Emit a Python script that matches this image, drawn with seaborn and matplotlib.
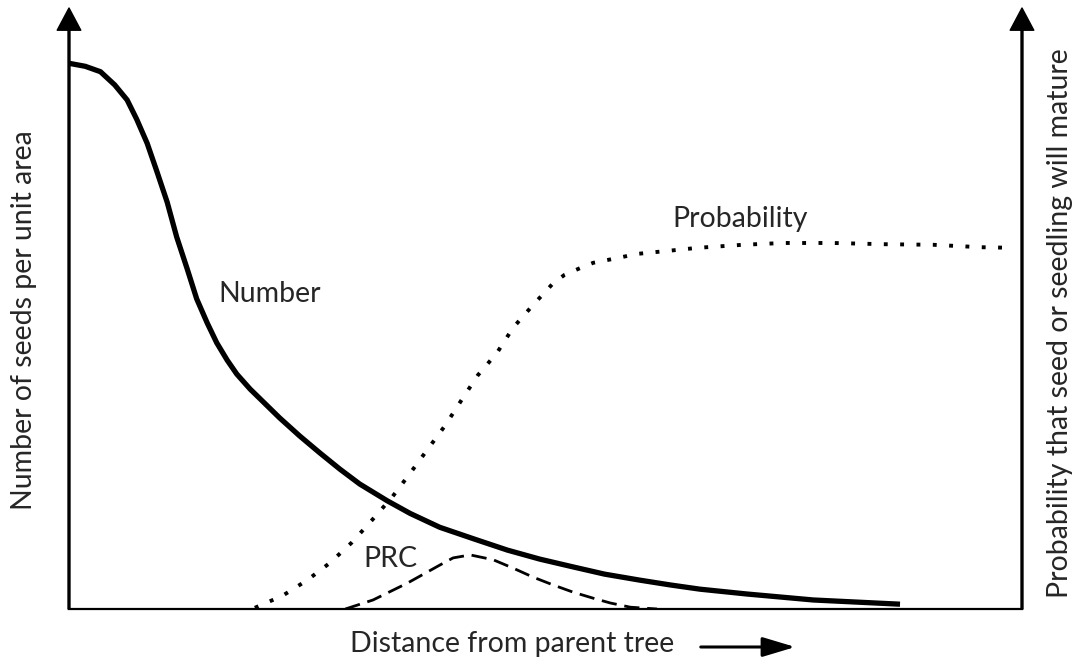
import matplotlib
matplotlib.use("Agg")
import matplotlib.pyplot as plt
import seaborn as sns
import pandas as pd

# values (x = distance, y = relative height, 0-100)
number_x = [0.0, 1.7, 3.3, 4.8, 6.1, 7.1, 8.2, 9.2, 10.3, 11.3, 12.4, 13.4, 14.5,
            15.5, 16.6, 17.6, 19.0, 20.1, 22.1, 24.2, 26.3, 28.4, 30.5, 33.4,
            35.8, 38.9, 42.6, 46.0, 49.4, 52.9, 56.2, 59.9, 63.1, 66.2, 71.1,
            74.6, 78.1, 82.0, 87.2]
number_y = [90.8, 90.3, 89.4, 87.2, 84.7, 81.5, 77.5, 72.9, 67.7, 61.9, 56.6, 51.6,
            47.6, 44.3, 41.4, 39.1, 36.6, 34.9, 31.8, 28.8, 26.0, 23.3, 20.8, 18.0,
            15.9, 13.6, 11.6, 9.8, 8.3, 7.0, 5.8, 4.8, 4.0, 3.3, 2.5, 2.0, 1.5,
            1.2, 0.8]

prob_x = [19.5, 22.4, 25.0, 27.4, 29.7, 31.8, 33.9, 35.8, 37.6, 39.5, 41.2, 42.9,
          44.9, 46.6, 48.7, 50.8, 52.0, 53.6, 55.0, 56.6, 59.7, 62.9, 66.0, 70.7,
          74.9, 80.2, 85.4, 90.7, 95.6, 98.9]
prob_y = [0.2, 2.2, 4.8, 7.7, 11.1, 14.8, 18.6, 22.6, 26.5, 30.6, 34.8, 38.9,
          42.6, 46.8, 50.6, 54.2, 55.6, 56.7, 57.6, 58.1, 59.1, 59.6, 60.1, 60.6,
          60.9, 60.9, 60.7, 60.6, 60.2, 60.1]

prc_x = [29.0, 31.9, 35.5, 38.9, 40.3, 42.1, 44.5, 46.6, 48.7, 50.8, 52.9, 55.0,
         56.8, 58.9, 61.7]
prc_y = [0, 1.5, 4.3, 7.3, 8.5, 9.0, 8.2, 6.8, 5.3, 4.0, 2.8, 1.8, 1.0, 0.3, 0]

number = pd.DataFrame({"x": number_x, "y": number_y})
prob = pd.DataFrame({"x": prob_x, "y": prob_y})
prc = pd.DataFrame({"x": prc_x, "y": prc_y})

sns.set_style("white")
plt.rcParams["font.family"] = ["Lato", "DejaVu Sans"]
fs = 20.5

W, H = 1081, 661
fig = plt.figure(figsize=(W / 100, H / 100), dpi=100)
ax = fig.add_axes([69 / W, (H - 609) / H, 953 / W, 601 / H])

sns.lineplot(data=number, x="x", y="y", ax=ax, color="black", lw=3.8,
             solid_capstyle="butt", solid_joinstyle="round")
sns.lineplot(data=prob, x="x", y="y", ax=ax, color="black", lw=2.8,
             linestyle=(0, (1, 3.2)))
sns.lineplot(data=prc, x="x", y="y", ax=ax, color="black", lw=2.0,
             linestyle=(0, (5.5, 2.8)))

ax.set_xlim(0, 100)
ax.set_ylim(0, 100)
ax.set_xticks([])
ax.set_yticks([])
ax.set_xlabel("")
ax.set_ylabel("")
for s in ["left", "right", "top"]:
    ax.spines[s].set_visible(False)
ax.spines["bottom"].set_linewidth(1.6)
ax.spines["bottom"].set_color("black")

# vertical axes with arrow heads
arrow = dict(width=1.4, headwidth=17, headlength=16, shrink=0,
             facecolor="black", edgecolor="black")
for xa in [0, 1]:
    ax.annotate("", xy=(xa, 1.0), xycoords="axes fraction",
                xytext=(xa, 0), textcoords="axes fraction",
                arrowprops=arrow, annotation_clip=False)

ax.text(15.7, 51.1, "Number", fontsize=fs, va="baseline")
ax.text(63.3, 63.6, "Probability", fontsize=fs, va="baseline")
ax.text(30.9, 7.0, "PRC", fontsize=fs, va="baseline")

fig.text(350 / W, (H - 652) / H, "Distance from parent tree", fontsize=fs,
         va="baseline", ha="left")
fig.text(24 / W, (H - 510) / H, "Number of seeds per unit area", fontsize=fs,
         rotation=90, va="bottom", ha="center")
fig.text(1060 / W, (H - 48) / H, "Probability that seed or seedling will mature",
         fontsize=fs, rotation=90, va="top", ha="center")

fig.add_artist(matplotlib.patches.FancyArrowPatch(
    (698 / W, (H - 647) / H), (798 / W, (H - 647) / H),
    transform=fig.transFigure, arrowstyle="-|>,head_length=2.0,head_width=0.6",
    mutation_scale=10, lw=2.2, color="black"))

fig.savefig("out.png", dpi=100)
